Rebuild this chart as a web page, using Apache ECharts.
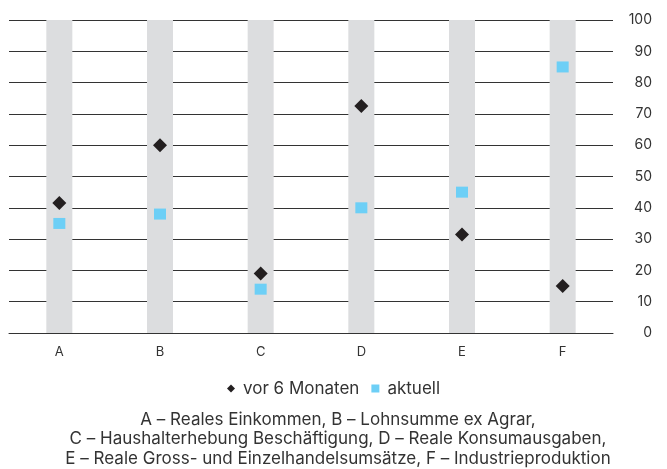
<!DOCTYPE html>
<html>
<head>
<meta charset="utf-8">
<script src="https://cdn.jsdelivr.net/npm/echarts@6/dist/echarts.min.js"></script>
<style>
  html, body { margin: 0; padding: 0; background: #fff; }
  #chart { width: 667px; height: 469px; }
</style>
</head>
<body>
<div id="chart"></div>
<script>
const categories = ['A', 'B', 'C', 'D', 'E', 'F'];
const vor6Monaten = [41.5, 60, 19, 72.5, 31.5, 15];
const aktuell = [35, 38, 14, 40, 45, 85];
const captionLines = [
  'A – Reales Einkommen, B – Lohnsumme ex Agrar,',
  'C – Haushalterhebung Beschäftigung, D – Reale Konsumausgaben,',
  'E – Reale Gross- und Einzelhandelsumsätze, F – Industrieproduktion'
];

const font = 'Inter, "Noto Sans", sans-serif';
const chart = echarts.init(document.getElementById('chart'));

chart.setOption({
  animation: false,
  textStyle: { fontFamily: font },
  title: {
    text: captionLines.join('\n'),
    left: 333,
    top: 405,
    textAlign: 'center',
    textStyle: { fontFamily: font, fontSize: 17, fontWeight: 'normal', color: '#333', lineHeight: 19.5 }
  },
  legend: {
    top: 375,
    left: 'center',
    itemGap: 12,
    itemWidth: 8,
    itemHeight: 8,
    textStyle: { fontFamily: font, fontSize: 17, color: '#333', padding: [0, 0, 0, 3] },
    data: [
      { name: 'vor 6 Monaten', icon: 'diamond' },
      { name: 'aktuell', icon: 'rect' }
    ]
  },
  grid: { left: 9, right: 54, top: 20, bottom: 136 },
  xAxis: {
    type: 'category',
    data: categories,
    axisTick: { show: false },
    axisLine: { show: true, lineStyle: { color: '#333', width: 1 } },
    axisLabel: { color: '#333', fontSize: 13, margin: 13 }
  },
  yAxis: {
    type: 'value',
    position: 'right',
    min: 0,
    max: 100,
    interval: 10,
    axisLine: { show: false },
    axisTick: { show: false },
    axisLabel: { color: '#333', fontSize: 14, align: 'right', margin: 39 },
    splitLine: { lineStyle: { color: '#333', width: 1 } }
  },
  series: [
    {
      name: 'band',
      type: 'bar',
      data: categories.map(() => 0),
      barWidth: 26,
      showBackground: true,
      backgroundStyle: { color: '#dcdddf' },
      silent: true,
      z: 1
    },
    {
      name: 'vor 6 Monaten',
      type: 'scatter',
      data: vor6Monaten,
      symbol: 'diamond',
      symbolSize: 14,
      itemStyle: { color: '#231f20', opacity: 1 },
      z: 3
    },
    {
      name: 'aktuell',
      type: 'scatter',
      data: aktuell,
      symbol: 'rect',
      symbolSize: [12, 11],
      itemStyle: { color: '#6dcff6', opacity: 1 },
      z: 3
    }
  ]
});
</script>
</body>
</html>
